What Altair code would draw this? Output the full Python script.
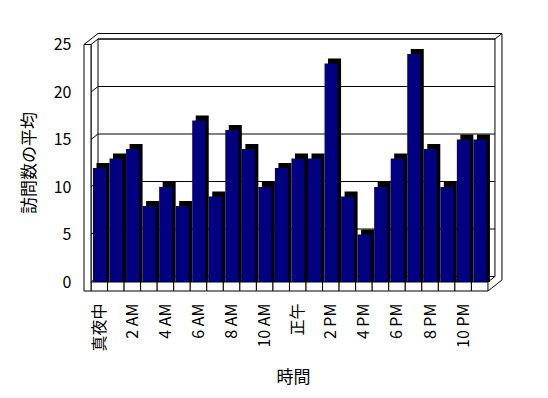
import json
import altair as alt
import pandas as pd

# ---- data ----
hour_index = list(range(24))
values = [12, 13, 14, 8, 10, 8, 17, 9, 16, 14, 10, 12, 13, 13, 23, 9, 5, 10, 13, 24, 14, 10, 15, 15]
tick_labels = ["真夜中", "2 AM", "4 AM", "6 AM", "8 AM", "10 AM", "正午", "2 PM", "4 PM", "6 PM", "8 PM", "10 PM"]
y_ticks = [0, 5, 10, 15, 20, 25]
y_title = "訪問数の平均"
x_title = "時間"

# ---- geometry (pixels -> data units) ----
SX, SY = 16.54, 9.5          # px per category, px per unit
W, H = 418, 257
DU, DV = 7 / SX, 5.5 / SY    # 3D depth step of the walls
BU, BV = 3.5 / SX, 5 / SY    # 3D depth of the bars
FV = 9 / SY                  # floor thickness
N = len(values)
TOP = 25
x_dom = [-DU, -DU + W / SX]
y_dom = [-FV, -FV + H / SY]
FONT = "Noto Sans CJK JP"

xs = alt.Scale(domain=x_dom, nice=False, zero=False)
ys = alt.Scale(domain=y_dom, nice=False, zero=False)
xaxis = alt.Axis(values=[i * 2 + 0.5 for i in range(len(tick_labels))],
                 labelExpr=json.dumps(tick_labels, ensure_ascii=False) + "[floor(datum.value/2)]",
                 ticks=False, domain=False, grid=False, labelAngle=270, labelAlign="right",
                 labelBaseline="middle", labelPadding=12, labelFontSize=16, labelFont=FONT,
                 labelOverlap=False, labelFlush=False, labelColor="black",
                 title=x_title, titleFont=FONT, titleFontSize=17, titleFontWeight="normal",
                 titlePadding=18, titleColor="black")
yaxis = alt.Axis(values=y_ticks, ticks=False, domain=False, grid=False, labelPadding=13,
                 labelFontSize=16, labelFont=FONT, labelColor="black", labelFlush=False,
                 title=y_title, titleFont=FONT, titleFontSize=17, titleFontWeight="normal",
                 titlePadding=15, titleColor="black")


def enc(chart):
    return chart.encode(
        x=alt.X("u0:Q", scale=xs, axis=xaxis),
        x2="u1:Q",
        y=alt.Y("v0:Q", scale=ys, axis=yaxis),
        y2="v1:Q",
    )


# frame rects
back_wall = pd.DataFrame([dict(u0=DU, u1=N + DU, v0=DV, v1=TOP + DV)])
floor_cells = pd.DataFrame([dict(u0=i, u1=i + 1, v0=-FV, v1=0) for i in hour_index])
left_front = pd.DataFrame([dict(u0=-DU, u1=0, v0=-FV, v1=TOP)])

# frame lines
segs = []
for t in y_ticks:
    segs.append(dict(u0=DU, u1=N + DU, v0=t + DV, v1=t + DV))      # back-wall grid
    segs.append(dict(u0=0, u1=DU, v0=t, v1=t + DV))                # left wall inner side
    segs.append(dict(u0=-DU, u1=0, v0=t, v1=t))                    # left wall front tick
segs += [
    dict(u0=-DU, u1=DU, v0=TOP, v1=TOP + 2 * DV),
    dict(u0=DU, u1=N + 2 * DU, v0=TOP + 2 * DV, v1=TOP + 2 * DV),
    dict(u0=N + DU, u1=N + 2 * DU, v0=TOP + DV, v1=TOP + 2 * DV),
    dict(u0=N + 2 * DU, u1=N + 2 * DU, v0=-FV + 2 * DV, v1=TOP + 2 * DV),
    dict(u0=N, u1=N + 2 * DU, v0=-FV, v1=-FV + 2 * DV),
    dict(u0=N, u1=N + DU, v0=0, v1=DV),
    dict(u0=0, u1=0, v0=0, v1=TOP),
]
lines = pd.DataFrame(segs)

bars = pd.DataFrame({
    "u0": [i + 0.12 for i in hour_index],
    "u1": [i + 0.907 for i in hour_index],
    "v0": [0] * N,
    "v1": values,
})
# dark top/side of each bar: the same bar pushed back by the bar depth
shadow = bars.assign(u0=bars.u0 + BU, u1=bars.u1 + BU, v1=bars.v1 + BV)

layers = [
    enc(alt.Chart(back_wall).mark_rect(fill="white", stroke="black", strokeWidth=1)),
    enc(alt.Chart(lines).mark_rule(color="black", strokeWidth=1)),
    enc(alt.Chart(shadow).mark_rect(color="black")),
    enc(alt.Chart(bars).mark_rect(color="#000080")),
    enc(alt.Chart(floor_cells).mark_rect(fill="white", stroke="black", strokeWidth=1)),
    enc(alt.Chart(left_front).mark_rect(fill="white", stroke="black", strokeWidth=1)),
]

chart = alt.layer(*layers).properties(
    width=W, height=H,
    padding={"left": 76, "top": 26, "right": 30, "bottom": 105},
    autosize=alt.AutoSizeParams(type="none"),
    background="white",
).configure_view(stroke=None)

chart.save("out.html", embed_options={"renderer": "svg", "actions": False})
